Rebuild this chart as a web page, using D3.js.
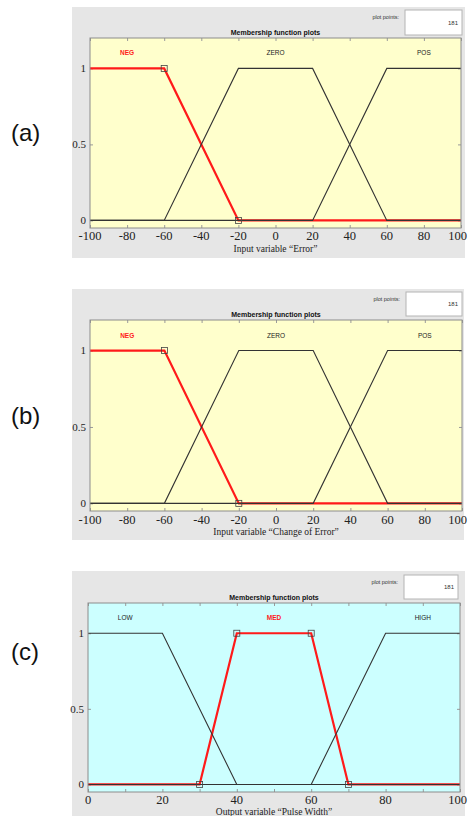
<!DOCTYPE html>
<html>
<head>
<meta charset="utf-8">
<script src="https://cdn.jsdelivr.net/npm/d3@7"></script>
<style>
  html, body { margin: 0; padding: 0; background: #ffffff; }
  svg { display: block; }
</style>
</head>
<body>
<svg id="chart" width="468" height="816"></svg>
<script>
// Membership functions of a fuzzy controller: two inputs, one output.

// Input "Error"
const errorRange = [-100, 100];
const errorTickValues = [-100, -80, -60, -40, -20, 0, 20, 40, 60, 80, 100];
const errorMfNames = ["NEG", "ZERO", "POS"];
const errorMfParams = [[-100, -100, -60, -20], [-60, -20, 20, 60], [20, 60, 100, 100]];

// Input "Change of Error"
const dErrorRange = [-100, 100];
const dErrorTickValues = [-100, -80, -60, -40, -20, 0, 20, 40, 60, 80, 100];
const dErrorMfNames = ["NEG", "ZERO", "POS"];
const dErrorMfParams = [[-100, -100, -60, -20], [-60, -20, 20, 60], [20, 60, 100, 100]];

// Output "Pulse Width"
const pulseRange = [0, 100];
const pulseTickValues = [0, 20, 40, 60, 80, 100];
const pulseMinorTicks = [0, 10, 20, 30, 40, 50, 60, 70, 80, 90, 100];
const pulseMfNames = ["LOW", "MED", "HIGH"];
const pulseMfParams = [[0, 0, 20, 40], [30, 40, 60, 70], [60, 80, 100, 100]];

const yTickValues = [0, 0.5, 1];
const yTickLabels = ["0", "0.5", "1"];
const plotPointCount = 181;

const panels = [
  {
    tag: "(a)", tagY: 133,
    box: { x: 72, y: 7, w: 393, h: 251 },
    plot: { x: 90, y: 38, w: 371, h: 190 },
    pts: { x: 405, y: 10, w: 57, h: 25 },
    bg: "#ffffcc", labelGap: 12, titleGap: 24,
    range: errorRange, ticks: errorTickValues, minor: errorTickValues,
    names: errorMfNames, params: errorMfParams, selected: 0,
    axisTitle: "Input variable \u201cError\u201d"
  },
  {
    tag: "(b)", tagY: 416,
    box: { x: 72, y: 289, w: 392, h: 251 },
    plot: { x: 90, y: 320, w: 372, h: 191 },
    pts: { x: 406, y: 292, w: 56, h: 24 },
    bg: "#ffffcc", labelGap: 13, titleGap: 24,
    range: dErrorRange, ticks: dErrorTickValues, minor: dErrorTickValues,
    names: dErrorMfNames, params: dErrorMfParams, selected: 0,
    axisTitle: "Input variable \u201cChange of Error\u201d"
  },
  {
    tag: "(c)", tagY: 652,
    box: { x: 72, y: 571, w: 393, h: 250 },
    plot: { x: 88, y: 603, w: 372, h: 189 },
    pts: { x: 404, y: 575, w: 54, h: 24 },
    bg: "#ccffff", labelGap: 12, titleGap: 23,
    range: pulseRange, ticks: pulseTickValues, minor: pulseMinorTicks,
    names: pulseMfNames, params: pulseMfParams, selected: 1,
    axisTitle: "Output variable \u201cPulse Width\u201d"
  }
];

const svg = d3.select("#chart");
const serif = "'Liberation Serif', 'Times New Roman', serif";
const sans = "'Liberation Sans', Arial, sans-serif";
const pageRight = 467;

// Trapezoidal membership value
function trap(x, p) {
  const [a, b, c, d] = p;
  const up = (b === a) ? (x >= a ? 1 : 0) : (x - a) / (b - a);
  const down = (d === c) ? (x <= d ? 1 : 0) : (d - x) / (d - c);
  return Math.max(0, Math.min(up, 1, down));
}

function curvePoints(p, range) {
  const xs = [range[0], ...p.filter(v => v > range[0] && v < range[1]), range[1]];
  const uniq = Array.from(new Set(xs)).sort((m, n) => m - n);
  return uniq.map(x => [x, trap(x, p)]);
}

panels.forEach(cfg => {
  const g = svg.append("g");
  const P = cfg.plot;

  // Figure panel background
  g.append("rect").attr("x", cfg.box.x).attr("y", cfg.box.y)
    .attr("width", cfg.box.w).attr("height", cfg.box.h).attr("fill", "#e6e6e6");

  // Panel tag
  svg.append("text").attr("x", 11).attr("y", cfg.tagY).attr("dy", "0.35em")
    .attr("font-family", sans).attr("font-size", 24).attr("fill", "#111")
    .text(cfg.tag);

  // "plot points" field
  g.append("rect").attr("x", cfg.pts.x).attr("y", cfg.pts.y)
    .attr("width", cfg.pts.w).attr("height", cfg.pts.h)
    .attr("fill", "#ffffff").attr("stroke", "#b4b4b4").attr("stroke-width", 1);
  g.append("text").attr("x", cfg.pts.x - 6).attr("y", cfg.pts.y + 9)
    .attr("text-anchor", "end").attr("font-family", sans).attr("font-size", 5.5)
    .attr("fill", "#333").text("plot points:");
  g.append("text").attr("x", cfg.pts.x + cfg.pts.w - 4).attr("y", cfg.pts.y + cfg.pts.h / 2 + 2)
    .attr("text-anchor", "end").attr("font-family", sans).attr("font-size", 6)
    .attr("fill", "#333").text(plotPointCount);

  const x = d3.scaleLinear().domain(cfg.range).range([P.x, P.x + P.w]);
  const y = d3.scaleLinear().domain([-0.05, 1.2]).range([P.y + P.h, P.y]);

  // Plot area
  g.append("rect").attr("x", P.x).attr("y", P.y).attr("width", P.w).attr("height", P.h)
    .attr("fill", cfg.bg);

  // Title
  g.append("text").attr("x", P.x + P.w / 2).attr("y", P.y - 3)
    .attr("text-anchor", "middle").attr("font-family", sans).attr("font-size", 7)
    .attr("font-weight", "bold").attr("fill", "#111").text("Membership function plots");

  // Inward ticks on all four sides
  const tickColor = "#9a9a9a";
  const bottom = g.append("g").attr("transform", `translate(0,${P.y + P.h})`)
    .call(d3.axisBottom(x).tickValues(cfg.minor).tickSize(-3).tickFormat(""));
  const top = g.append("g").attr("transform", `translate(0,${P.y})`)
    .call(d3.axisTop(x).tickValues(cfg.minor).tickSize(-3).tickFormat(""));
  const left = g.append("g").attr("transform", `translate(${P.x},0)`)
    .call(d3.axisLeft(y).tickValues(yTickValues).tickSize(-3).tickFormat(""));
  const right = g.append("g").attr("transform", `translate(${P.x + P.w},0)`)
    .call(d3.axisRight(y).tickValues(yTickValues).tickSize(-3).tickFormat(""));
  [bottom, top, left, right].forEach(a => {
    a.select(".domain").remove();
    a.selectAll("line").attr("stroke", tickColor);
  });

  // Tick labels (the last one is kept inside the page)
  g.selectAll(null).data(cfg.ticks).join("text")
    .attr("x", d => x(d)).attr("y", P.y + P.h + cfg.labelGap)
    .attr("text-anchor", "middle").attr("font-family", serif).attr("font-size", 12.5)
    .attr("fill", "#222").text(d => d)
    .each(function () {
      const w = this.getComputedTextLength();
      const cx = +this.getAttribute("x");
      if (cx + w / 2 > pageRight) this.setAttribute("x", pageRight - w / 2);
    });
  g.selectAll(null).data(yTickValues).join("text")
    .attr("x", P.x - 4).attr("y", d => y(d)).attr("dy", "0.35em")
    .attr("text-anchor", "end").attr("font-family", serif).attr("font-size", 11)
    .attr("fill", "#222").text((d, i) => yTickLabels[i]);

  // Axis title
  g.append("text").attr("x", P.x + P.w / 2).attr("y", Math.min(P.y + P.h + cfg.titleGap, 815))
    .attr("text-anchor", "middle").attr("font-family", serif).attr("font-size", 9.5)
    .attr("fill", "#222").text(cfg.axisTitle);

  const line = d3.line().x(d => x(d[0])).y(d => y(d[1]));
  const mfs = cfg.params.map((p, i) => ({ name: cfg.names[i], p, pts: curvePoints(p, cfg.range), sel: i === cfg.selected }));

  // Selected function underneath, others on top
  mfs.filter(m => m.sel).forEach(m => {
    g.append("path").attr("d", line(m.pts)).attr("fill", "none")
      .attr("stroke", "#ff1a1a").attr("stroke-width", 2.2);
  });
  mfs.filter(m => !m.sel).forEach(m => {
    g.append("path").attr("d", line(m.pts)).attr("fill", "none")
      .attr("stroke", "#333333").attr("stroke-width", 1.1);
  });

  // Breakpoint handles on the selected function
  mfs.filter(m => m.sel).forEach(m => {
    const handles = Array.from(new Set(m.p.filter(v => v > cfg.range[0] && v < cfg.range[1])));
    g.selectAll(null).data(handles).join("rect")
      .attr("x", d => x(d) - 3).attr("y", d => y(trap(d, m.p)) - 3)
      .attr("width", 6).attr("height", 6)
      .attr("fill", "none").attr("stroke", "#444").attr("stroke-width", 0.8);
  });

  // Function names
  g.selectAll(null).data(mfs).join("text")
    .attr("x", m => x((m.p[1] + m.p[2]) / 2)).attr("y", y(1.1)).attr("dy", "0.35em")
    .attr("text-anchor", "middle").attr("font-family", sans).attr("font-size", 6.5)
    .attr("font-weight", m => m.sel ? "bold" : "normal")
    .attr("fill", m => m.sel ? "#ff1a1a" : "#222").text(m => m.name);

  // Plot border
  g.append("rect").attr("x", P.x).attr("y", P.y).attr("width", P.w).attr("height", P.h)
    .attr("fill", "none").attr("stroke", "#8c8c8c").attr("stroke-width", 1);
});
</script>
</body>
</html>
